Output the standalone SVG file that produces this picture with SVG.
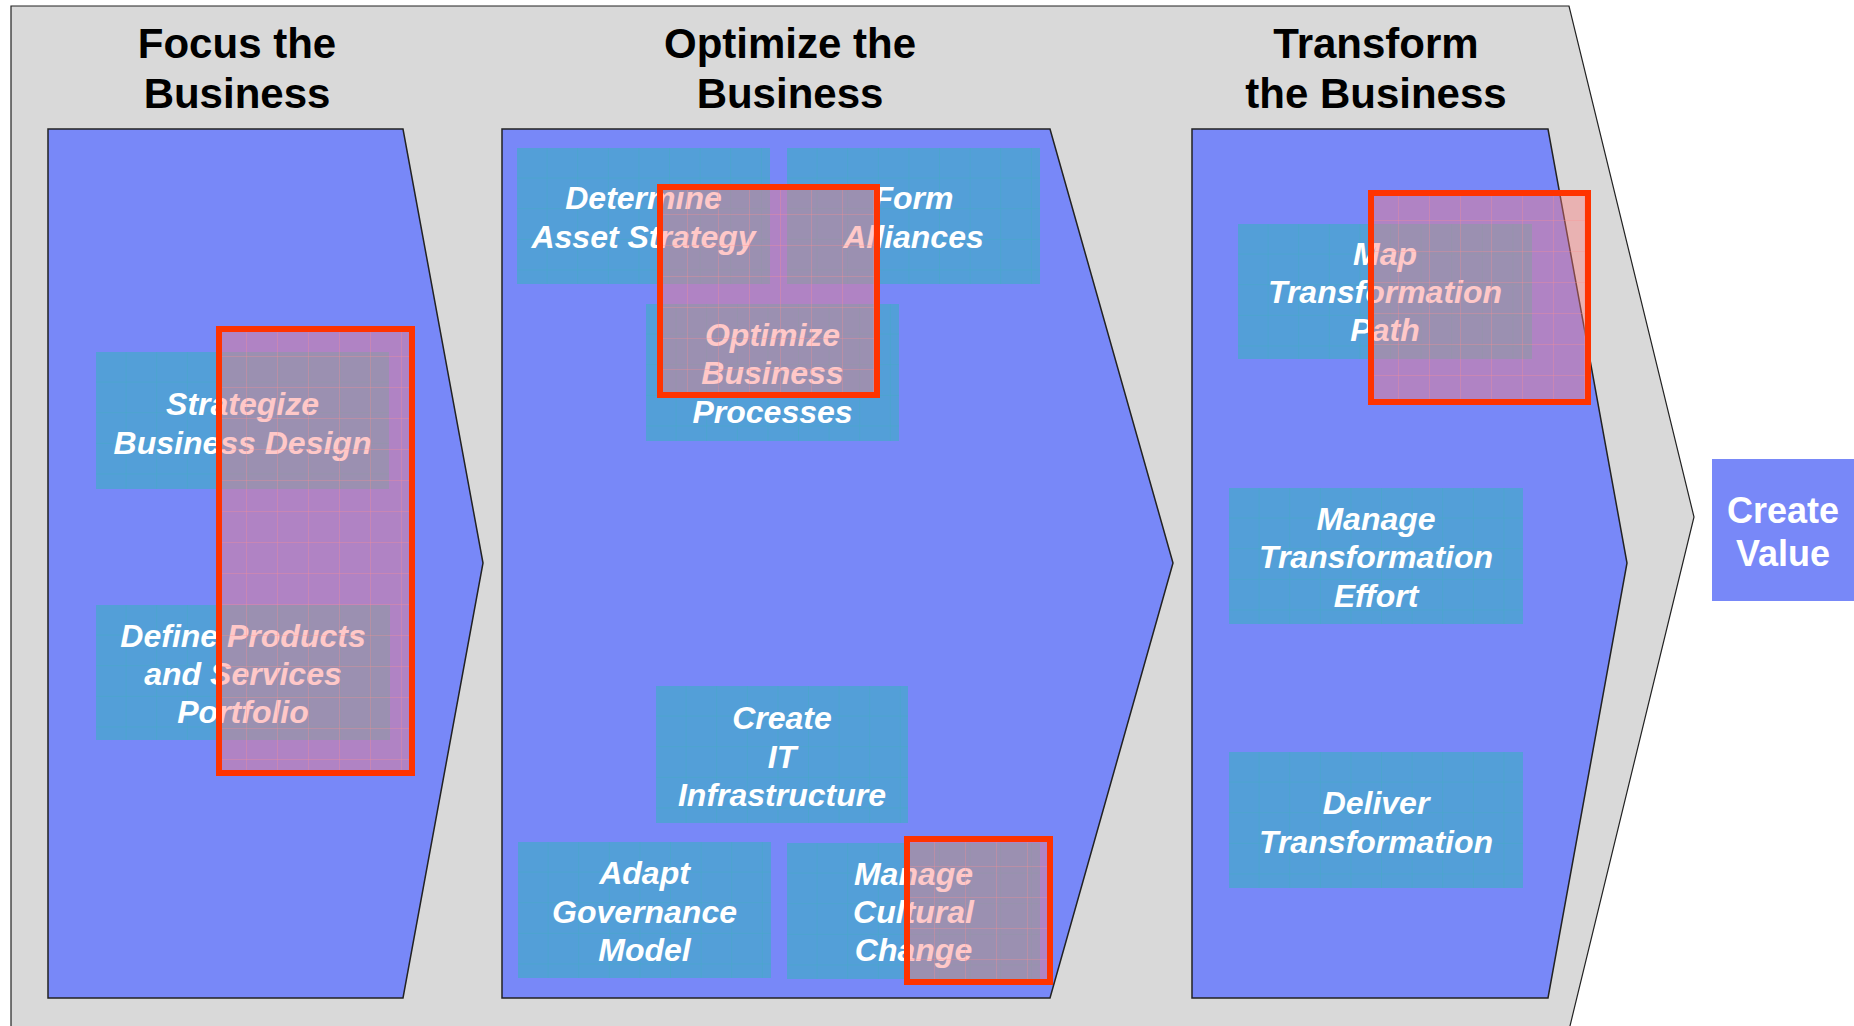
<svg xmlns="http://www.w3.org/2000/svg" width="1854" height="1026" viewBox="0 0 1854 1026">
  <defs>
    <pattern id="grid" width="30.6" height="30.6" patternUnits="userSpaceOnUse">
      <path d="M30.6 0V30.6M0 30.6H30.6" fill="none" stroke="#33B3B0" stroke-width="1" stroke-opacity="0.45"/>
    </pattern>
    <pattern id="rgrid" width="31" height="31" patternUnits="userSpaceOnUse">
      <path d="M31 0V31M0 31H31" fill="none" stroke="#FF8A8A" stroke-width="1" stroke-opacity="0.6"/>
    </pattern>
    <style>
      .bg{fill:#D9D9D9;stroke:#222;stroke-width:1.2}
      .col{fill:#7888F8;stroke:#222;stroke-width:1.5}
      .box{fill:#539FD8}
      .gr{fill:url(#grid)}
      .title{font-family:"Liberation Sans",Arial,sans-serif;font-weight:bold;font-size:42px;fill:#000;text-anchor:middle}
      .t{font-family:"Liberation Sans",Arial,sans-serif;font-weight:bold;font-style:italic;font-size:32px;fill:#fff;text-anchor:middle}
      .cv{font-family:"Liberation Sans",Arial,sans-serif;font-weight:bold;font-size:36px;fill:#fff;text-anchor:middle}
      .hl{fill:#FF7C7C;fill-opacity:0.42}
      .hlg{fill:url(#rgrid)}
      .hlb{fill:none;stroke:#FF3300;stroke-width:6}
    </style>
  </defs>
  <rect width="1854" height="1026" fill="#fff"/>
  <g id="background">
    <path class="bg" d="M11 6H1569L1694 517L1569 1030H11Z"/>
    <path id="col1" class="col" d="M48 129H403L483 563L403 998H48Z"/>
    <path id="col2" class="col" d="M502 129H1050L1173 563L1050 998H502Z"/>
    <path id="col3" class="col" d="M1192 129H1548L1627 563L1548 998H1192Z"/>
  </g>
  <g id="titles">
    <g id="title-focus"><text class="title" x="237" y="58">Focus the</text><text class="title" x="237" y="108">Business</text></g>
    <g id="title-optimize"><text class="title" x="790" y="58">Optimize the</text><text class="title" x="790" y="108">Business</text></g>
    <g id="title-transform"><text class="title" x="1376" y="58">Transform</text><text class="title" x="1376" y="108">the Business</text></g>
  </g>
  <g id="connectors"></g>
  <g id="n-strategize" transform="translate(96,352)">
    <rect class="box" width="293" height="137"/><rect class="gr" width="293" height="137"/>
    <text class="t" x="146.5" y="63">Strategize</text><text class="t" x="146.5" y="102">Business Design</text>
  </g>
  <g id="n-define" transform="translate(96,605)">
    <rect class="box" width="294" height="135"/><rect class="gr" width="294" height="135"/>
    <text class="t" x="147" y="42">Define Products</text><text class="t" x="147" y="80">and Services</text><text class="t" x="147" y="118">Portfolio</text>
  </g>
  <g id="n-determine" transform="translate(517,148)">
    <rect class="box" width="253" height="136"/><rect class="gr" width="253" height="136"/>
    <text class="t" x="126.5" y="61">Determine</text><text class="t" x="126.5" y="100">Asset Strategy</text>
  </g>
  <g id="n-form" transform="translate(787,148)">
    <rect class="box" width="253" height="136"/><rect class="gr" width="253" height="136"/>
    <text class="t" x="126.5" y="61">Form</text><text class="t" x="126.5" y="100">Alliances</text>
  </g>
  <g id="n-optimize" transform="translate(646,304)">
    <rect class="box" width="253" height="137"/><rect class="gr" width="253" height="137"/>
    <text class="t" x="126.5" y="42">Optimize</text><text class="t" x="126.5" y="80">Business</text><text class="t" x="126.5" y="119">Processes</text>
  </g>
  <g id="n-createit" transform="translate(656,686)">
    <rect class="box" width="252" height="137"/><rect class="gr" width="252" height="137"/>
    <text class="t" x="126" y="43">Create</text><text class="t" x="126" y="82">IT</text><text class="t" x="126" y="120">Infrastructure</text>
  </g>
  <g id="n-adapt" transform="translate(518,842)">
    <rect class="box" width="253" height="136"/><rect class="gr" width="253" height="136"/>
    <text class="t" x="126.5" y="42">Adapt</text><text class="t" x="126.5" y="81">Governance</text><text class="t" x="126.5" y="119">Model</text>
  </g>
  <g id="n-cultural" transform="translate(787,843)">
    <rect class="box" width="253" height="136"/><rect class="gr" width="253" height="136"/>
    <text class="t" x="126.5" y="42">Manage</text><text class="t" x="126.5" y="80">Cultural</text><text class="t" x="126.5" y="118">Change</text>
  </g>
  <g id="n-map" transform="translate(1238,224)">
    <rect class="box" width="294" height="135"/><rect class="gr" width="294" height="135"/>
    <text class="t" x="147" y="41">Map</text><text class="t" x="147" y="79">Transformation</text><text class="t" x="147" y="117">Path</text>
  </g>
  <g id="n-effort" transform="translate(1229,488)">
    <rect class="box" width="294" height="136"/><rect class="gr" width="294" height="136"/>
    <text class="t" x="147" y="42">Manage</text><text class="t" x="147" y="80">Transformation</text><text class="t" x="147" y="119">Effort</text>
  </g>
  <g id="n-deliver" transform="translate(1229,752)">
    <rect class="box" width="294" height="136"/><rect class="gr" width="294" height="136"/>
    <text class="t" x="147" y="62">Deliver</text><text class="t" x="147" y="101">Transformation</text>
  </g>
  <g id="n-createvalue">
    <rect x="1712" y="459" width="142" height="142" fill="#7888F8"/>
    <text class="cv" x="1783" y="523">Create</text><text class="cv" x="1783" y="566">Value</text>
  </g>
  <g id="highlights">
    <g transform="translate(216,326)"><rect class="hl" width="199" height="450"/><rect class="hlg" width="199" height="450"/><rect class="hlb" x="3" y="3" width="193" height="444"/></g>
    <g transform="translate(657,184)"><rect class="hl" width="223" height="214"/><rect class="hlg" width="223" height="214"/><rect class="hlb" x="3" y="3" width="217" height="208"/></g>
    <g transform="translate(904,836)"><rect class="hl" width="149" height="149"/><rect class="hlg" width="149" height="149"/><rect class="hlb" x="3" y="3" width="143" height="143"/></g>
    <g transform="translate(1368,190)"><rect class="hl" width="223" height="215"/><rect class="hlg" width="223" height="215"/><rect class="hlb" x="3" y="3" width="217" height="209"/></g>
  </g>
</svg>
